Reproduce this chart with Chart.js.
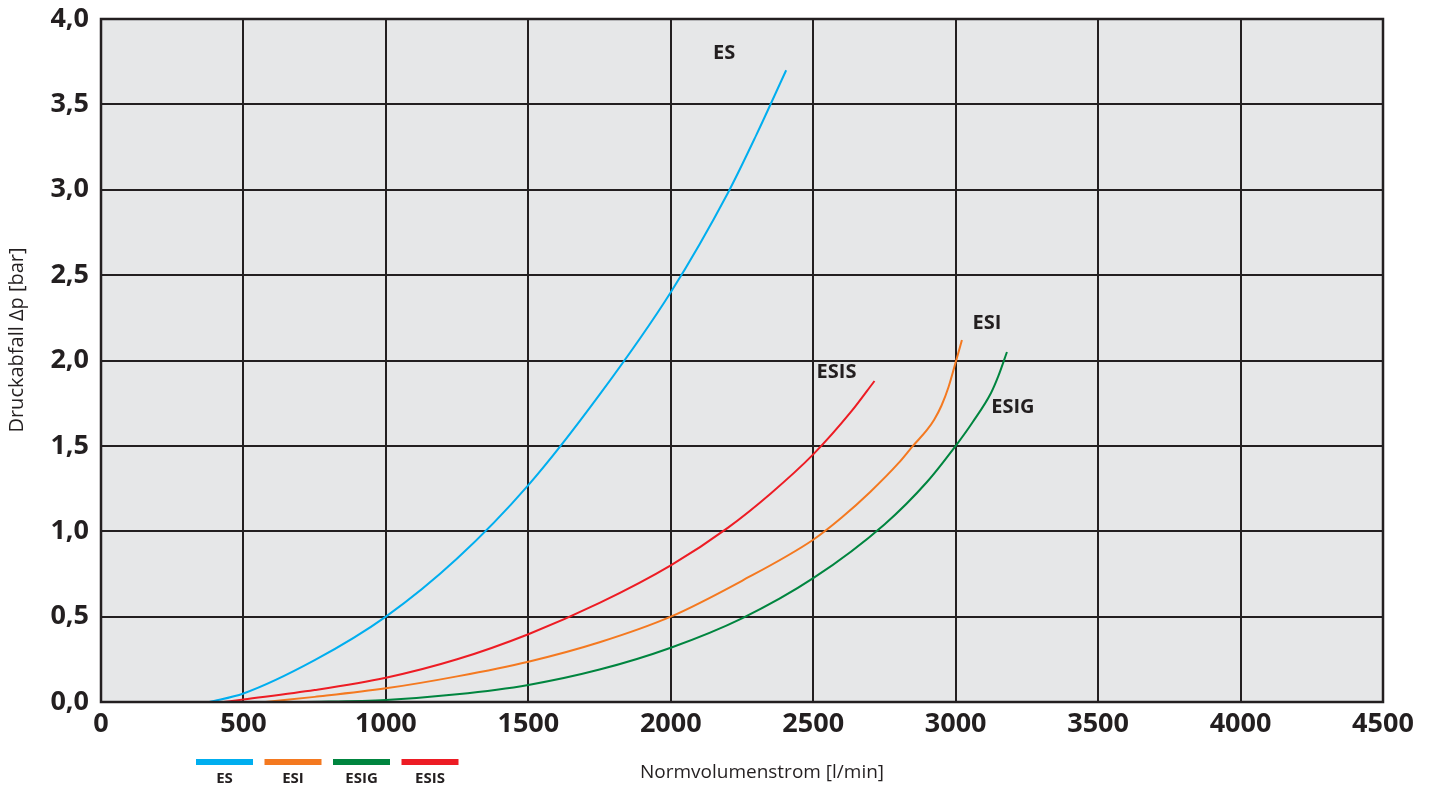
<!DOCTYPE html>
<html><head><meta charset="utf-8">
<script src="https://cdn.jsdelivr.net/npm/chart.js@4"></script>
<style>html,body{margin:0;padding:0;background:#fff}#wrap{width:1432px;height:791px}</style>
</head><body><div id="wrap"><canvas id="c" width="1432" height="791"></canvas></div>
<script>
const seriesNames = ["ES", "ESI", "ESIG", "ESIS"];
const seriesColors = ["#00aeef", "#f47920", "#00853f", "#ed1c24"];

const esX   = [380, 500, 750, 1000, 1250, 1500, 1750, 2000, 2200, 2300, 2405];
const esY   = [0.0, 0.05, 0.245, 0.50, 0.84, 1.27, 1.80, 2.40, 2.98, 3.32, 3.70];

const esiX  = [577, 750, 1000, 1250, 1500, 1750, 2000, 2250, 2500, 2600, 2700, 2800, 2850, 2900, 2925, 2950, 2975, 3000, 3022];
const esiY  = [0.0, 0.03, 0.08, 0.15, 0.236, 0.35, 0.50, 0.71, 0.95, 1.08, 1.23, 1.40, 1.50, 1.595, 1.655, 1.735, 1.845, 1.99, 2.12];

const esigX = [700, 1000, 1250, 1500, 1750, 2000, 2250, 2500, 2750, 2900, 3000, 3060, 3124, 3150, 3180];
const esigY = [0.0, 0.012, 0.045, 0.10, 0.19, 0.318, 0.49, 0.725, 1.04, 1.29, 1.50, 1.64, 1.81, 1.91, 2.05];

const esisX = [430, 500, 750, 1000, 1250, 1500, 1750, 2000, 2200, 2350, 2500, 2633, 2715];
const esisY = [0.0, 0.015, 0.07, 0.142, 0.25, 0.397, 0.58, 0.80, 1.02, 1.22, 1.45, 1.70, 1.88];

const xTicks = [0, 500, 1000, 1500, 2000, 2500, 3000, 3500, 4000, 4500];
const yTicks = [0, 0.5, 1.0, 1.5, 2.0, 2.5, 3.0, 3.5, 4.0];
const yTickLabels = ["0,0", "0,5", "1,0", "1,5", "2,0", "2,5", "3,0", "3,5", "4,0"];

const xTitle = "Normvolumenstrom [l/min]";
const yTitle = "Druckabfall \u0394p [bar]";

const allX = [esX, esiX, esigX, esisX];
const allY = [esY, esiY, esigY, esisY];

const datasets = seriesNames.map((n, i) => ({
  label: n,
  data: allX[i].map((x, j) => ({x: x, y: allY[i][j]})),
  borderColor: seriesColors[i],
  backgroundColor: seriesColors[i],
  borderWidth: 2,
  pointRadius: 0,
  showLine: true,
  fill: false,
  cubicInterpolationMode: 'monotone'
}));

const GRID = "#231f20";
const FONT = "'Open Sans', 'Noto Sans', sans-serif";

const bgPlugin = {
  id: 'bg',
  beforeDraw(chart) {
    const {ctx, chartArea: a} = chart;
    ctx.save();
    ctx.fillStyle = "#e6e7e8";
    ctx.fillRect(a.left, a.top, a.right - a.left, a.bottom - a.top);
    ctx.restore();
  },
  afterDatasetsDraw(chart) {
    const {ctx, chartArea: a} = chart;
    ctx.save();
    ctx.strokeStyle = GRID;
    ctx.lineWidth = 2.5;
    ctx.strokeRect(a.left, a.top, a.right - a.left, a.bottom - a.top);
    ctx.restore();
  },
  afterDraw(chart) {
    const {ctx} = chart;
    const xs = chart.scales.x, ys = chart.scales.y;
    ctx.save();
    const offs = [[-62, -17], [25, -17], [6, 55], [-38, -9]];
    ctx.font = "bold 20px " + FONT;
    ctx.fillStyle = "#231f20";
    ctx.textAlign = "center";
    ctx.textBaseline = "middle";
    seriesNames.forEach((n, i) => {
      const xa = allX[i], ya = allY[i];
      const px = xs.getPixelForValue(xa[xa.length - 1]);
      const py = ys.getPixelForValue(ya[ya.length - 1]);
      ctx.fillText(n, px + offs[i][0], py + offs[i][1]);
    });
    ctx.font = "bold 15px " + FONT;
    seriesNames.forEach((n, i) => {
      const x0 = 196 + i * 68.5;
      ctx.fillStyle = seriesColors[i];
      ctx.fillRect(x0, 759, 57, 6);
      ctx.fillStyle = "#231f20";
      ctx.fillText(n, x0 + 28.5, 779);
    });
    ctx.font = "19px " + FONT;
    ctx.fillText(xTitle, 762, 773);
    ctx.translate(17, 340);
    ctx.rotate(-Math.PI / 2);
    ctx.font = "20px " + FONT;
    ctx.fillText(yTitle, 0, 0);
    ctx.restore();
  }
};

new Chart(document.getElementById('c'), {
  type: 'scatter',
  data: {datasets},
  plugins: [bgPlugin],
  options: {
    responsive: false,
    animation: false,
    devicePixelRatio: 1,
    layout: {padding: {top: 19, right: 49, left: 0, bottom: 0}},
    plugins: {legend: {display: false}, tooltip: {enabled: false}},
    scales: {
      x: {
        type: 'linear', min: 0, max: 4500,
        afterBuildTicks: s => { s.ticks = xTicks.map(v => ({value: v})); },
        afterFit: s => { s.height = 89; s.paddingLeft = 0; s.paddingRight = 0; },
        grid: {color: GRID, lineWidth: 2, drawTicks: false},
        border: {display: false},
        ticks: {color: "#231f20", font: {family: FONT, size: 27, weight: 'bold'}, padding: 6, maxRotation: 0,
          callback: (v) => String(v)}
      },
      y: {
        type: 'linear', min: 0, max: 4,
        afterBuildTicks: s => { s.ticks = yTicks.map(v => ({value: v})); },
        afterFit: s => { s.width = 101; s.paddingTop = 0; s.paddingBottom = 0; },
        grid: {color: GRID, lineWidth: 2, drawTicks: false},
        border: {display: false},
        ticks: {color: "#231f20", font: {family: FONT, size: 27, weight: 'bold'}, padding: 12,
          callback: (v) => { const k = yTicks.indexOf(v); return k >= 0 ? yTickLabels[k] : ''; }}
      }
    }
  }
});
</script></body></html>
